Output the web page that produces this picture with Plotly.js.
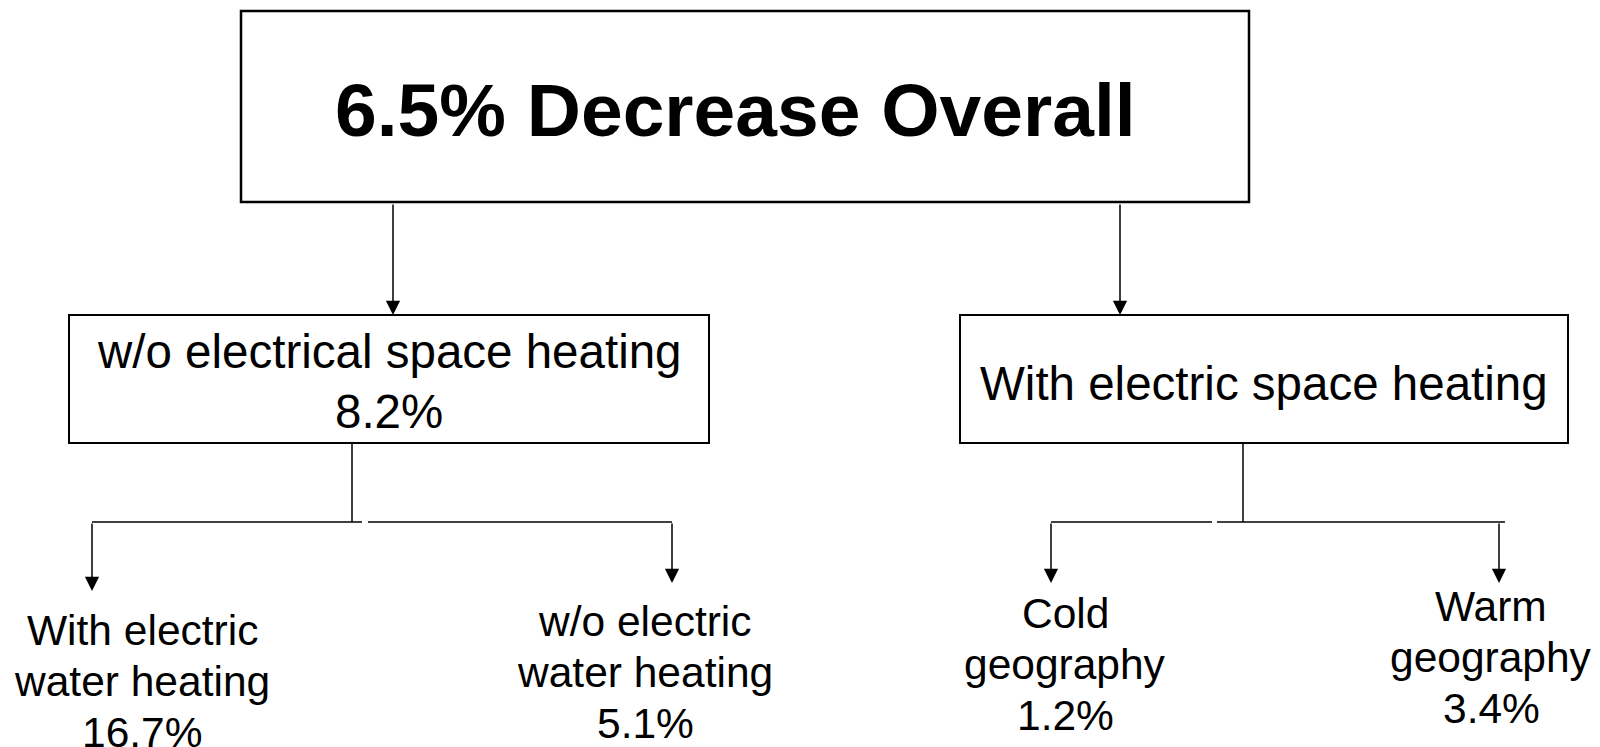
<!DOCTYPE html>
<html><head><meta charset="utf-8">
<script src="https://cdn.plot.ly/plotly-3.0.1.min.js"></script>
<style>html,body{margin:0;padding:0;background:#fff}#chart{width:1600px;height:747px}</style>
</head><body><div id="chart"></div>
<script>
// ---------- data ----------
const rootLabel = 'Decrease Overall';
const rootValue = 6.5;
const branchLabels = ['w/o electrical space heating', 'With electric space heating'];
const branchValues = [8.2, null];
const leafLabels = [['With electric', 'water heating'], ['w/o electric', 'water heating'], ['Cold', 'geography'], ['Warm', 'geography']];
const leafValues = [16.7, 5.1, 1.2, 3.4];
const leafParent = [0, 0, 1, 1];

// ---------- geometry (pixel space of the diagram) ----------
const rootBox = {x0: 241, x1: 1249, y0: 11, y1: 202, textX: 735, textY: 110};
const branchGeom = [
  {x0: 69, x1: 709, y0: 315, y1: 443, arrowX: 393, stemX: 352, textX: 389, lineYs: [351, 411], busX0: 92, busX1: 672, gap: [362, 368]},
  {x0: 960, x1: 1568, y0: 315, y1: 443, arrowX: 1120, stemX: 1243, textX: 1264, lineYs: [383], busX0: 1051, busX1: 1505, gap: [1212, 1217]}
];
const busY = 522;
const leafGeom = [
  {arrowX: 92, tipY: 591, textX: 142, lineYs: [630, 681, 732]},
  {arrowX: 672, tipY: 583, textX: 645, lineYs: [621, 672, 723]},
  {arrowX: 1051, tipY: 583, textX: 1065, lineYs: [613, 664, 715]},
  {arrowX: 1499, tipY: 583, textX: 1491, lineYs: [606, 657, 708]}
];
const FONT = 'Liberation Sans, Arial, Helvetica, sans-serif';
const fmt = v => v.toFixed(1) + '%';

const shapes = [];
const annotations = [];
const line = (x0, y0, x1, y1, w) => shapes.push({type: 'line', xref: 'x', yref: 'y', x0, y0, x1, y1, line: {color: '#000', width: w}});
const rect = (g, w) => shapes.push({type: 'rect', xref: 'x', yref: 'y', x0: g.x0, x1: g.x1, y0: g.y0, y1: g.y1, line: {color: '#000', width: w}, fillcolor: 'rgba(0,0,0,0)'});
const text = (t, x, y, size, bold) => annotations.push({xref: 'x', yref: 'y', x, y, text: bold ? '<b>' + t + '</b>' : t, showarrow: false, xanchor: 'center', yanchor: 'middle', font: {family: FONT, size, color: '#000'}});
const arrow = (x, y0, y1) => annotations.push({xref: 'x', yref: 'y', axref: 'x', ayref: 'y', x, y: y1, ax: x, ay: y0, text: '', showarrow: true, arrowhead: 2, arrowsize: 1.9, arrowwidth: 1.5, arrowcolor: '#000', standoff: 0});

// root
rect(rootBox, 2.5);
text(fmt(rootValue) + ' ' + rootLabel, rootBox.textX, rootBox.textY, 75, true);

// branches
branchLabels.forEach((lab, i) => {
  const g = branchGeom[i];
  rect(g, 2);
  arrow(g.arrowX, rootBox.y1 + 1, g.y0);
  const lines = [lab];
  if (branchValues[i] !== null) lines.push(fmt(branchValues[i]));
  lines.forEach((l, k) => text(l, g.textX, g.lineYs[k], 47.5, false));
  // stem + bus
  line(g.stemX, g.y1, g.stemX, busY, 1.5);
  line(g.busX0, busY, g.gap[0], busY, 1.5);
  line(g.gap[1], busY, g.busX1, busY, 1.5);
});

// leaves
leafLabels.forEach((lab, i) => {
  const g = leafGeom[i];
  arrow(g.arrowX, busY, g.tipY);
  const lines = lab.concat([fmt(leafValues[i])]);
  lines.forEach((l, k) => text(l, g.textX, g.lineYs[k], 42.5, false));
});

const data = [{x: [0, 1600], y: [0, 747], mode: 'markers', marker: {opacity: 0}, hoverinfo: 'skip', showlegend: false}];
const layout = {
  width: 1600, height: 747,
  margin: {l: 0, r: 0, t: 0, b: 0},
  paper_bgcolor: '#fff', plot_bgcolor: '#fff',
  xaxis: {range: [0, 1600], visible: false, fixedrange: true},
  yaxis: {range: [747, 0], visible: false, fixedrange: true},
  shapes, annotations, showlegend: false
};
Plotly.newPlot('chart', data, layout, {displayModeBar: false, staticPlot: true});
</script>
</body></html>
